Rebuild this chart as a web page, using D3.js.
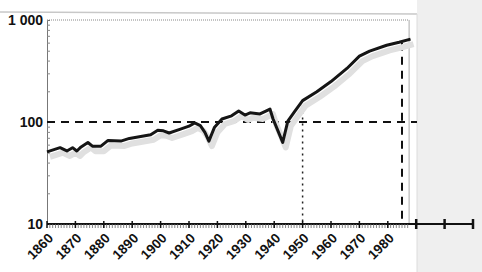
<!DOCTYPE html>
<html>
<head>
<meta charset="utf-8">
<script src="https://cdn.jsdelivr.net/npm/d3@7"></script>
<style>
  body { margin: 0; background: #fff; }
  text { font-family: "Liberation Sans", Arial, sans-serif; font-weight: bold; fill: #111; }
</style>
</head>
<body>
<div id="chart"></div>
<script>
// index values (log scale)
var years = [1860, 1864.6, 1867, 1869, 1870.5, 1872, 1874.4, 1876, 1879, 1881.5, 1886, 1889, 1893, 1896.5, 1899,
             1901, 1903, 1907, 1910, 1912, 1914, 1915.6, 1917, 1919, 1921.6, 1925, 1927.5, 1929.7, 1931.5, 1935,
             1937.8, 1938.5, 1939.6, 1941.4, 1943, 1944.8, 1947.3, 1950, 1955, 1960, 1965.6, 1970, 1973.6, 1979.6,
             1984, 1988];
var values = [51, 56, 52, 56, 52, 57, 63, 58, 58, 66, 65, 69, 72, 75, 83,
              82, 78, 85, 91, 98, 92, 79, 65, 89, 107, 115, 128, 117, 123, 120,
              131, 134, 107, 81, 63, 102, 128, 162, 198, 249, 335, 442, 495, 565,
              605, 650];
var yTicks = [10, 100, 1000];
var yTickLabels = ["10", "100", "1 000"];
var xTicks = [1860, 1870, 1880, 1890, 1900, 1910, 1920, 1930, 1940, 1950, 1960, 1970, 1980];
var xExtraTicks = [1990, 2000, 2010];
var refLevel = 100;
var refYears = [1950, 1985];

var W = 482, H = 272;
var svg = d3.select("#chart").append("svg")
    .attr("width", W)
    .attr("height", H);

// scan background: grey page edge on the right
svg.append("rect").attr("x", 0).attr("y", 0).attr("width", W).attr("height", H).style("fill", "#ffffff");
svg.append("rect").attr("x", 417).attr("y", 0).attr("width", W - 417).attr("height", H).style("fill", "#efefef");
svg.append("line").attr("x1", 0).attr("x2", 417).attr("y1", 12).attr("y2", 14)
    .style("stroke", "#c8c8c8").attr("stroke-width", 1.5);
svg.append("line").attr("x1", 417).attr("x2", 417).attr("y1", 14).attr("y2", H)
    .style("stroke", "#dcdcdc").attr("stroke-width", 1);

var x = d3.scaleLinear().domain([1860, 2010]).range([47, 473]);
var y = d3.scaleLog().domain([10, 1000]).range([224, 20]);

// frame: dotted top, grey right edge
svg.append("line").attr("x1", 47).attr("x2", x(1987.5)).attr("y1", y(1000)).attr("y2", y(1000))
    .style("stroke", "#888").attr("stroke-width", 1).style("stroke-dasharray", "1,1");
svg.append("line").attr("x1", x(1987.5)).attr("x2", x(1987.5)).attr("y1", y(1000)).attr("y2", y(10))
    .style("stroke", "#aaa").attr("stroke-width", 1);

// Y axis
var yAxis = d3.axisRight(y)
    .tickValues(d3.range(1, 10).map(function(d) { return d * 10; }).concat(d3.range(1, 10).map(function(d) { return d * 100; })))
    .tickSize(3)
    .tickFormat("");
var gy = svg.append("g").attr("transform", "translate(47,0)").call(yAxis);
gy.select(".domain").style("stroke", "#777").attr("stroke-width", 1);
gy.selectAll(".tick line").style("stroke", "#888");

svg.selectAll(".ylab")
    .data(yTicks)
    .enter().append("text")
      .attr("class", "ylab")
      .attr("x", 43)
      .attr("y", function(d) { return y(d); })
      .attr("dy", "0.35em")
      .style("text-anchor", "end")
      .style("font-size", "14px")
      .text(function(d, i) { return yTickLabels[i]; });

// reference lines
svg.append("line")
    .attr("x1", 47).attr("x2", 417)
    .attr("y1", y(refLevel)).attr("y2", y(refLevel))
    .style("stroke", "#111").attr("stroke-width", 2).style("stroke-dasharray", "8,6");
svg.append("line")
    .attr("x1", x(refYears[0])).attr("x2", x(refYears[0]))
    .attr("y1", y(145)).attr("y2", y(10))
    .style("stroke", "#222").attr("stroke-width", 1.5).style("stroke-dasharray", "2,4");
svg.append("line")
    .attr("x1", x(refYears[1])).attr("x2", x(refYears[1]))
    .attr("y1", y(600)).attr("y2", y(10))
    .style("stroke", "#111").attr("stroke-width", 2).style("stroke-dasharray", "8,6");

// series (with the scan's grey shadow)
var data = years.map(function(d, i) { return {year: d, value: values[i]}; });
var line = d3.line()
    .x(function(d) { return x(d.year); })
    .y(function(d) { return y(d.value); });

svg.append("path")
    .datum(data)
    .attr("d", line)
    .attr("transform", "translate(3,5)")
    .style("fill", "none")
    .style("stroke", "#e0e0e0")
    .attr("stroke-width", 6)
    .style("stroke-linejoin", "round");

svg.append("path")
    .datum(data)
    .attr("d", line)
    .style("fill", "none")
    .style("stroke", "#151515")
    .attr("stroke-width", 3)
    .style("stroke-linejoin", "round");

// X axis
svg.append("line").attr("x1", 47).attr("x2", 473).attr("y1", y(10)).attr("y2", y(10))
    .style("stroke", "#111").attr("stroke-width", 2);

svg.selectAll(".minor")
    .data(d3.range(1861, 1988))
    .enter().append("line")
      .attr("class", "minor")
      .attr("x1", function(d) { return x(d); })
      .attr("x2", function(d) { return x(d); })
      .attr("y1", y(10))
      .attr("y2", y(10) + 4)
      .style("stroke", "#666")
      .attr("stroke-width", 0.8);

svg.selectAll(".major")
    .data(xTicks)
    .enter().append("line")
      .attr("class", "major")
      .attr("x1", function(d) { return x(d); })
      .attr("x2", function(d) { return x(d); })
      .attr("y1", y(10) - 3)
      .attr("y2", y(10) + 4)
      .style("stroke", "#111")
      .attr("stroke-width", 1.5);

svg.selectAll(".extra")
    .data(xExtraTicks)
    .enter().append("line")
      .attr("class", "extra")
      .attr("x1", function(d) { return x(d); })
      .attr("x2", function(d) { return x(d); })
      .attr("y1", y(10) - 5)
      .attr("y2", y(10) + 5)
      .style("stroke", "#111")
      .attr("stroke-width", 2.5);

svg.selectAll(".xlab")
    .data(xTicks)
    .enter().append("text")
      .attr("class", "xlab")
      .attr("transform", function(d) { return "translate(" + (x(d) + 7) + "," + (y(10) + 15) + ") rotate(-45)"; })
      .style("text-anchor", "end")
      .style("font-size", "13.5px")
      .text(function(d) { return d; });
</script>
</body>
</html>
